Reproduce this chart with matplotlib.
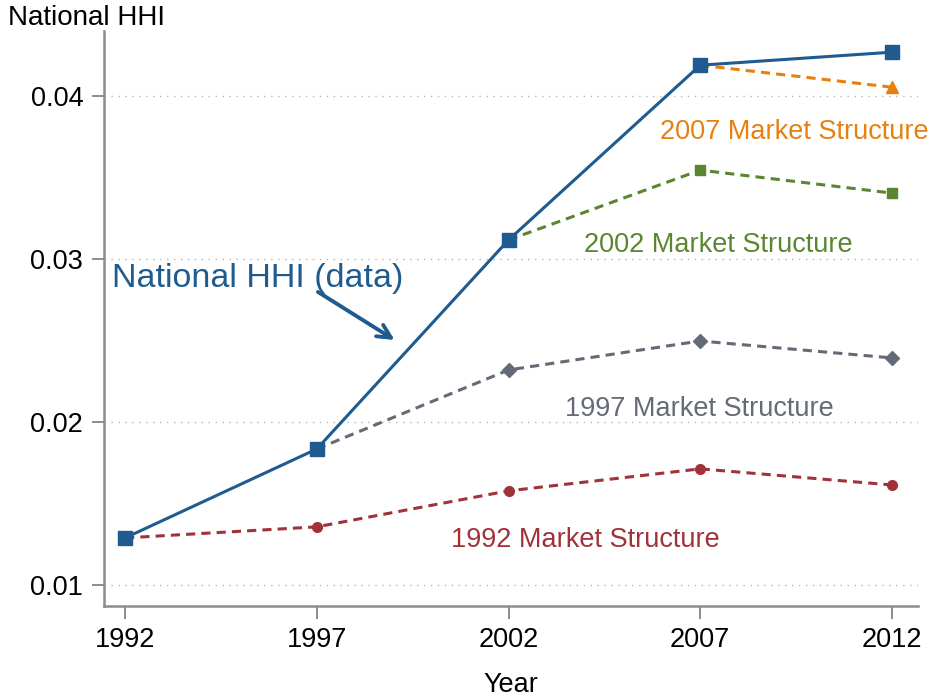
import matplotlib
matplotlib.use("Agg")
from matplotlib import pyplot as plt

plt.rcParams["font.family"] = ["Liberation Sans", "DejaVu Sans"]

# ------------------------------------------------------------------------ DATA
years = [1992, 1997, 2002, 2007, 2012]
national = [0.01288, 0.01834, 0.03117, 0.04190, 0.04270]

ms1992_years = [1992, 1997, 2002, 2007, 2012]
ms1992 = [0.01288, 0.01356, 0.01577, 0.01712, 0.01613]
ms1997_years = [1997, 2002, 2007, 2012]
ms1997 = [0.01834, 0.02319, 0.02497, 0.02393]
ms2002_years = [2002, 2007, 2012]
ms2002 = [0.03117, 0.03546, 0.03405]
ms2007_years = [2007, 2012]
ms2007 = [0.04190, 0.04055]

yticks = [0.01, 0.02, 0.03, 0.04]
ytick_labels = ["0.01", "0.02", "0.03", "0.04"]

blue = "#1f5b8e"
orange = "#e8800f"
green = "#5a8631"
grey = "#656a77"
red = "#a1323a"
axis_grey = "#8c8c8c"

# ------------------------------------------------------------------------ PLOT
fig = plt.figure(figsize=(9.36, 6.98), dpi=100)
ax = fig.add_axes([104 / 936, 1 - 606 / 698, (918 - 104) / 936, (606 - 31) / 698])

dash = dict(linestyle=(0, (3, 2)), linewidth=2.2)
ax.plot(ms1992_years, ms1992, color=red, marker="o", ms=7, **dash, zorder=2)
ax.plot(ms1997_years, ms1997, color=grey, marker="D", ms=7, **dash, zorder=2)
ax.plot(ms2002_years, ms2002, color=green, marker="s", ms=7, **dash, zorder=2)
ax.plot(ms2007_years, ms2007, color=orange, marker="^", ms=8, **dash, zorder=2)
ax.plot(years, national, color=blue, marker="s", ms=10, linewidth=2.2, zorder=3)

lab = dict(fontsize=19.5, ha="center", va="center")
ax.text(2009.45, 0.03782, "2007 Market Structure", color=orange, **lab)
ax.text(2007.47, 0.03084, "2002 Market Structure", color=green, **lab)
ax.text(2006.97, 0.02079, "1997 Market Structure", color=grey, **lab)
ax.text(2004.0, 0.01275, "1992 Market Structure", color=red, **lab)

# big label with its arrow
ax.text(1991.66, 0.02883, "National HHI (data)", color=blue, fontsize=24.5,
        ha="left", va="center")
ax.annotate("", xy=(1999.03, 0.02503), xytext=(1997.03, 0.02798),
            arrowprops=dict(arrowstyle="->", color=blue, lw=2.8, mutation_scale=24,
                            shrinkA=0, shrinkB=0))

ax.set_xlim(1991.45, 2012.68)
ax.set_ylim(0.0087, 0.044)
ax.set_xticks(years)
ax.set_yticks(yticks)
ax.set_yticklabels(ytick_labels)
ax.tick_params(axis="both", colors=axis_grey, labelcolor="black", labelsize=19.5,
               length=9, width=1.4, direction="out", pad=6)
ax.grid(axis="y", color="#b5b5b5", linestyle=(0, (1, 4)), linewidth=1)
for side in ["top", "right"]:
    ax.spines[side].set_visible(False)
for side in ["left", "bottom"]:
    ax.spines[side].set_color(axis_grey)
    ax.spines[side].set_linewidth(1.8)

ax.set_xlabel("Year", fontsize=19.5, labelpad=14)
fig.text(8 / 936, 1 - 18 / 698, "National HHI", fontsize=20, ha="left", va="center")

fig.savefig("out.png", dpi=100, facecolor="white")
